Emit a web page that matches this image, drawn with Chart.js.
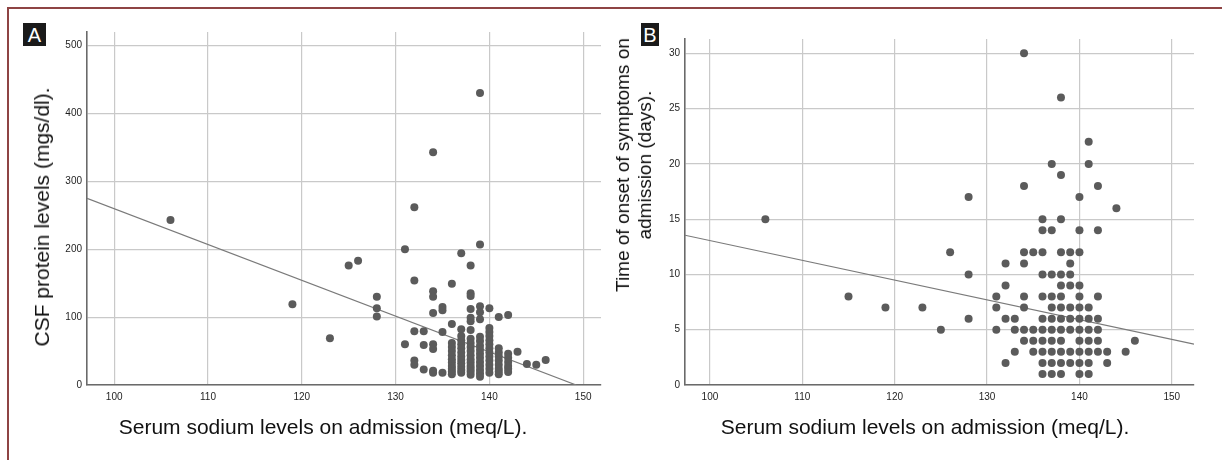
<!DOCTYPE html>
<html>
<head>
<meta charset="utf-8">
<script src="https://cdn.jsdelivr.net/npm/chart.js@4"></script>
<style>
  body { margin: 0; background: #fff; font-family: "Liberation Sans", Arial, sans-serif; }
  #page { position: relative; width: 1222px; height: 460px; overflow: hidden; }
  #frame { position: absolute; left: 7px; top: 7px; width: 1240px; height: 470px;
           border-top: 2px solid #8e4444; border-left: 2px solid #8e4444; box-sizing: border-box; }
  .panel { position: absolute; top: 0; height: 460px; }
  .tag { position: absolute; top: 23px; height: 23px; background: #1a1a1a; color: #fff;
         font-size: 20px; line-height: 24px; text-align: center; }
  .title { position: absolute; color: #111; white-space: nowrap; transform: translate(-50%, -50%); }
  .rot { transform: translate(-50%, -50%) rotate(-90deg); text-align: center; }
</style>
</head>
<body>
<div id="page">
  <div id="frame"></div>
  <div class="panel" style="left:0; width:610px;"><canvas id="chartA"></canvas></div>
  <div class="panel" style="left:610px; width:612px;"><canvas id="chartB"></canvas></div>
  <div class="tag" style="left:23px; width:23px;">A</div>
  <div class="tag" style="left:641px; width:18px;">B</div>
  <div class="title rot" style="left:42px; top:217px; font-size:21px;">CSF protein levels (mgs/dl).</div>
  <div class="title" style="left:323px; top:427px; font-size:21px;">Serum sodium levels on admission (meq/L).</div>
  <div class="title rot" style="left:634px; top:165px; font-size:19px; line-height:22px;">Time of onset of symptoms on<br>admission (days).</div>
  <div class="title" style="left:925px; top:427px; font-size:21px;">Serum sodium levels on admission (meq/L).</div>
</div>
<script>
Chart.defaults.font.family = '"Liberation Sans", Arial, sans-serif';
Chart.defaults.animation = false;

// Panel A: CSF protein (mgs/dl) by serum sodium (meq/L)
const sodiumA = [106, 119, 123, 125, 126, 128, 131, 132, 133, 134, 135, 136, 137, 138, 139, 140, 141, 142, 143, 144, 145, 146];
const proteinA = [
    [243], [119], [69], [176], [183],
    [130, 113, 101],
    [200, 60],
    [262, 154, 79, 36, 30],
    [79, 59, 23],
    [343, 138, 130, 106, 60, 53, 21, 18],
    [115, 110, 78, 18],
    [149, 90, 62, 56, 50, 44, 38, 33, 28, 24, 20, 16],
    [194, 82, 72, 66, 60, 54, 48, 42, 37, 32, 27, 22, 18],
    [176, 135, 131, 112, 99, 94, 81, 68, 62, 56, 50, 44, 38, 33, 28, 24, 20, 15],
    [430, 207, 116, 107, 97, 71, 65, 58, 52, 46, 40, 34, 28, 22, 17, 12],
    [113, 84, 78, 72, 66, 60, 54, 48, 42, 36, 30, 24, 18],
    [100, 54, 48, 42, 36, 30, 24, 20, 16],
    [103, 46, 40, 34, 28, 24, 19],
    [49], [31], [30], [37]
];
const fitA = [{ x: 97.1, y: 275 }, { x: 149.25, y: 0 }];
const yTicksA = [0, 100, 200, 300, 400, 500];

// Panel B: onset of symptoms (days) by serum sodium (meq/L)
const sodiumB = [106, 115, 119, 123, 125, 126, 128, 131, 132, 133, 134, 135, 136, 137, 138, 139, 140, 141, 142, 143, 144, 145, 146];
const onsetB = [
    [15], [8], [7], [7], [5], [12],
    [17, 10, 6],
    [8, 7, 5],
    [11, 9, 6, 2],
    [6, 5, 3],
    [30, 18, 12, 11, 8, 7, 5, 4],
    [12, 5, 4, 3],
    [15, 14, 12, 10, 8, 6, 5, 4, 3, 2, 1],
    [20, 14, 10, 8, 7, 6, 5, 4, 3, 2, 1],
    [26, 19, 15, 12, 10, 9, 8, 7, 6, 5, 4, 3, 2, 1],
    [12, 11, 10, 9, 7, 6, 5, 3, 2],
    [17, 14, 12, 9, 8, 7, 6, 5, 4, 3, 2, 1],
    [22, 20, 7, 6, 5, 4, 3, 2, 1],
    [18, 14, 8, 6, 5, 4, 3],
    [3, 2], [16], [3], [4]
];
const fitB = [{ x: 97.3, y: 13.55 }, { x: 152.4, y: 3.7 }];
const yTicksB = [0, 5, 10, 15, 20, 25, 30];

const xTicks = [100, 110, 120, 130, 140, 150];

function toPoints(xs, groups) {
    const pts = [];
    xs.forEach((x, i) => groups[i].forEach(y => pts.push({ x: x, y: y })));
    return pts;
}

function makeChart(id, points, fit, xMin, xMax, yMax, yTicks, pad, yWidth) {
    const tickFont = { size: 10 };
    return new Chart(document.getElementById(id), {
        type: 'scatter',
        data: {
            datasets: [
                {
                    data: fit,
                    showLine: true,
                    borderColor: '#7a7a7a',
                    borderWidth: 1.2,
                    pointRadius: 0,
                    order: 2
                },
                {
                    data: points,
                    backgroundColor: '#5b5b5b',
                    borderWidth: 0,
                    pointRadius: 4,
                    order: 1
                }
            ]
        },
        options: {
            responsive: true,
            maintainAspectRatio: false,
            layout: { padding: pad },
            plugins: { legend: { display: false }, tooltip: { enabled: false } },
            scales: {
                x: {
                    type: 'linear',
                    min: xMin,
                    max: xMax,
                    afterBuildTicks: s => { s.ticks = xTicks.map(v => ({ value: v })); },
                    afterFit: s => { s.height = 75; },
                    grid: { color: '#c9c9c9', lineWidth: 1.2, drawTicks: false },
                    border: { color: '#6a6a6a', width: 1.6 },
                    ticks: { color: '#1e1e1e', font: tickFont, padding: 6, maxRotation: 0 }
                },
                y: {
                    min: 0,
                    max: yMax,
                    afterBuildTicks: s => { s.ticks = yTicks.map(v => ({ value: v })); },
                    afterFit: s => { s.width = yWidth; },
                    grid: { color: '#c9c9c9', lineWidth: 1.2, drawTicks: false },
                    border: { color: '#6a6a6a', width: 1.6 },
                    ticks: { color: '#1e1e1e', font: tickFont, padding: 5 }
                }
            }
        }
    });
}

makeChart('chartA', toPoints(sodiumA, proteinA), fitA, 97.1, 151.9, 520, yTicksA,
    { left: 0, top: 32, right: 9, bottom: 0 }, 87);
makeChart('chartB', toPoints(sodiumB, onsetB), fitB, 97.3, 152.4, 31.3, yTicksB,
    { left: 0, top: 39, right: 28, bottom: 0 }, 75);
</script>
</body>
</html>
